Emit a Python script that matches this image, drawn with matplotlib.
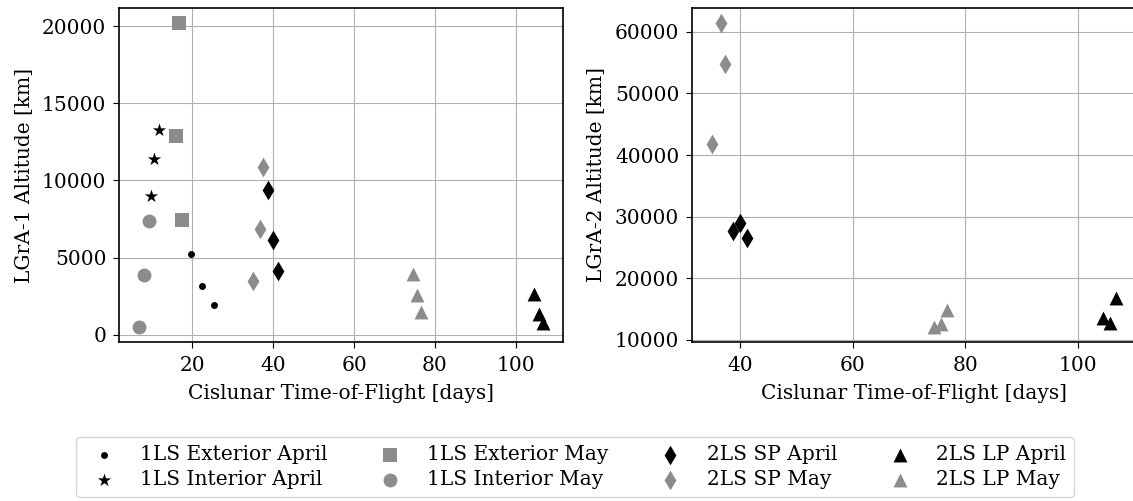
import matplotlib
matplotlib.use("Agg")
import matplotlib.pyplot as plt

plt.rcParams['font.family'] = 'DejaVu Serif'
plt.rcParams['font.size'] = 14.5
plt.rcParams['xtick.major.pad'] = 6.5
plt.rcParams['ytick.major.pad'] = 5
plt.rcParams['xtick.major.size'] = 4
plt.rcParams['ytick.major.size'] = 4
plt.rcParams['axes.labelpad'] = 6

# ----------------------------------------
# Transfer results: time-of-flight [days] vs. LGrA altitude [km]
# ----------------------------------------

# one-lunar-swingby (1LS) families, LGrA-1 only
ext_apr_tof = [19.6, 22.3, 25.4]
ext_apr_alt1 = [5220, 3140, 1910]
int_apr_tof = [9.7, 10.6, 11.7]
int_apr_alt1 = [8990, 11420, 13280]
ext_may_tof = [16.7, 15.9, 17.4]
ext_may_alt1 = [20170, 12890, 7430]
int_may_tof = [6.8, 8.1, 9.2]
int_may_alt1 = [540, 3900, 7390]

# two-lunar-swingby (2LS) families, LGrA-1 and LGrA-2
sp_apr_tof = [38.8, 40.0, 41.3]
sp_apr_alt1 = [9360, 6130, 4140]
sp_apr_alt2 = [27660, 29020, 26470]
sp_may_tof = [37.4, 36.7, 35.0]
sp_may_alt1 = [10900, 6870, 3490]
sp_may_alt2 = [54840, 61360, 41790]
lp_apr_tof = [104.5, 105.7, 106.8]
lp_apr_alt1 = [2670, 1370, 760]
lp_apr_alt2 = [13530, 12720, 16790]
lp_may_tof = [74.5, 75.7, 76.7]
lp_may_alt1 = [3970, 2560, 1470]
lp_may_alt2 = [12170, 12550, 14890]

GREY = '#8c8c8c'
MS = 100

fig = plt.figure(figsize=(11.33, 5.01), dpi=100)
ax1 = fig.add_axes([0.1049, 0.318, 0.3923, 0.6655])
ax2 = fig.add_axes([0.6105, 0.318, 0.3925, 0.6655])

for ax in (ax1, ax2):
    ax.grid(True, zorder=0)
    ax.set_axisbelow(True)
    for sp in ax.spines.values():
        sp.set_linewidth(1.2)

kw = dict(s=MS, linewidths=0)

# LGrA-1
ax1.scatter(ext_apr_tof, ext_apr_alt1, marker='.', color='k', label='1LS Exterior April', **kw)
ax1.scatter(int_apr_tof, int_apr_alt1, marker='*', color='k', label='1LS Interior April', **kw)
ax1.scatter(ext_may_tof, ext_may_alt1, marker='s', color=GREY, label='1LS Exterior May', **kw)
ax1.scatter(int_may_tof, int_may_alt1, marker='o', color=GREY, label='1LS Interior May', **kw)
ax1.scatter(sp_apr_tof, sp_apr_alt1, marker='d', color='k', label='2LS SP April', **kw)
ax1.scatter(sp_may_tof, sp_may_alt1, marker='d', color=GREY, label='2LS SP May', **kw)
ax1.scatter(lp_apr_tof, lp_apr_alt1, marker='^', color='k', label='2LS LP April', **kw)
ax1.scatter(lp_may_tof, lp_may_alt1, marker='^', color=GREY, label='2LS LP May', **kw)
ax1.set_xlabel('Cislunar Time-of-Flight [days]')
ax1.set_ylabel('LGrA-1 Altitude [km]', labelpad=6)

# LGrA-2
ax2.scatter(sp_apr_tof, sp_apr_alt2, marker='d', color='k', **kw)
ax2.scatter(sp_may_tof, sp_may_alt2, marker='d', color=GREY, **kw)
ax2.scatter(lp_apr_tof, lp_apr_alt2, marker='^', color='k', **kw)
ax2.scatter(lp_may_tof, lp_may_alt2, marker='^', color=GREY, **kw)
ax2.set_xlabel('Cislunar Time-of-Flight [days]')
ax2.set_ylabel('LGrA-2 Altitude [km]', labelpad=6)

fig.legend(*ax1.get_legend_handles_labels(), loc='upper center',
           bbox_to_anchor=(0.5075, 0.128), ncol=4, scatterpoints=1,
           labelspacing=0.3, borderaxespad=0, columnspacing=2.1)

plt.savefig('out.png', dpi=100)
plt.close()
